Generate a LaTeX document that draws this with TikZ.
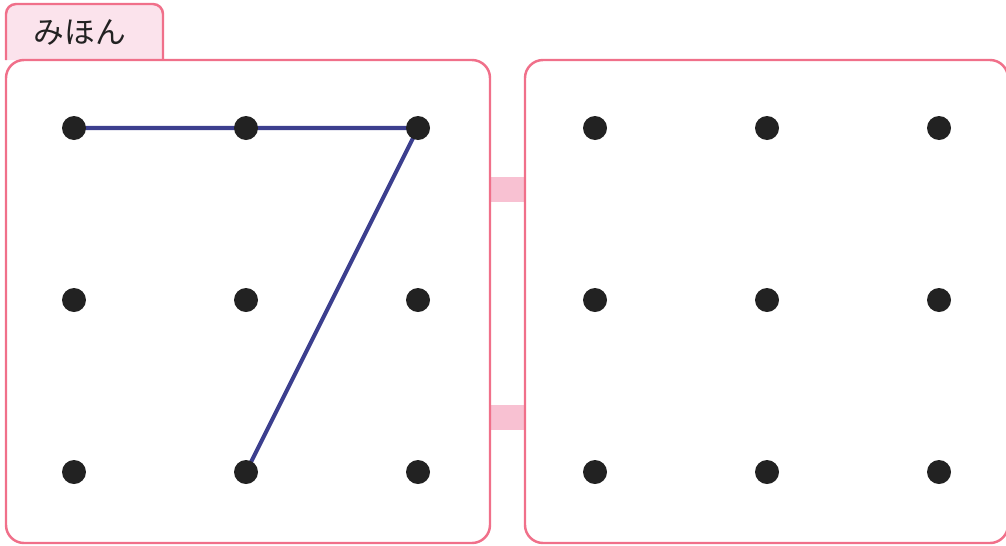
\documentclass[tikz,border=0pt]{standalone}
\usepackage{fontspec}
\newfontfamily\jpfont{Noto Sans CJK JP}
\usepackage{tikz}
\usepackage{xcolor}
\usetikzlibrary{positioning}
\definecolor{panelpink}{HTML}{F0708A}
\definecolor{tabpink}{HTML}{FBE3EC}
\definecolor{barpink}{HTML}{F8C1D2}
\definecolor{strokeblue}{HTML}{3C3F8E}
\definecolor{dotblack}{HTML}{222222}
\pgfdeclarelayer{bg}
\pgfsetlayers{bg,main}

\begin{document}
\begin{tikzpicture}[
    x=0.02cm, y=-0.02cm,
    panel/.style={draw=panelpink, line width=1.4pt, rounded corners=0.36cm},
    tabbox/.style={draw=panelpink, fill=tabpink, line width=1.4pt},
    bridge/.style={fill=barpink, draw=none},
    dot/.style={circle, fill=dotblack, minimum size=0.48cm, inner sep=0pt},
    stroke/.style={draw=strokeblue, line width=2.3pt}
  ]
    \useasboundingbox (0,0) rectangle (1006,545);

    % connecting bars between the panels
    \fill[bridge] (490,177) rectangle (525,202);
    \fill[bridge] (490,405) rectangle (525,430);

    % sample tab
    \draw[tabbox, rounded corners=0.2cm] (6,60) -- (6,4) -- (163,4) -- (163,60);
    \node[font=\jpfont\fontsize{17.5pt}{20pt}\selectfont, text=dotblack] (sample) at (80,32) {みほん};

    % panels
    \draw[panel] (6,60) rectangle (490,543);
    \draw[panel] (525,60) rectangle (1008,543);

    % dots
    \foreach \c/\x in {a/74, b/246, c/418, d/595, e/767, f/939}
      \foreach \r/\y in {1/128, 2/300, 3/472}
        \node[dot] (\c\r) at (\x,\y) {};

    % the sample seven
    \begin{pgfonlayer}{bg}
      \draw[stroke] (a1.center) -- (b1.center) -- (c1.center) -- (b3.center);
    \end{pgfonlayer}
\end{tikzpicture}
\end{document}
